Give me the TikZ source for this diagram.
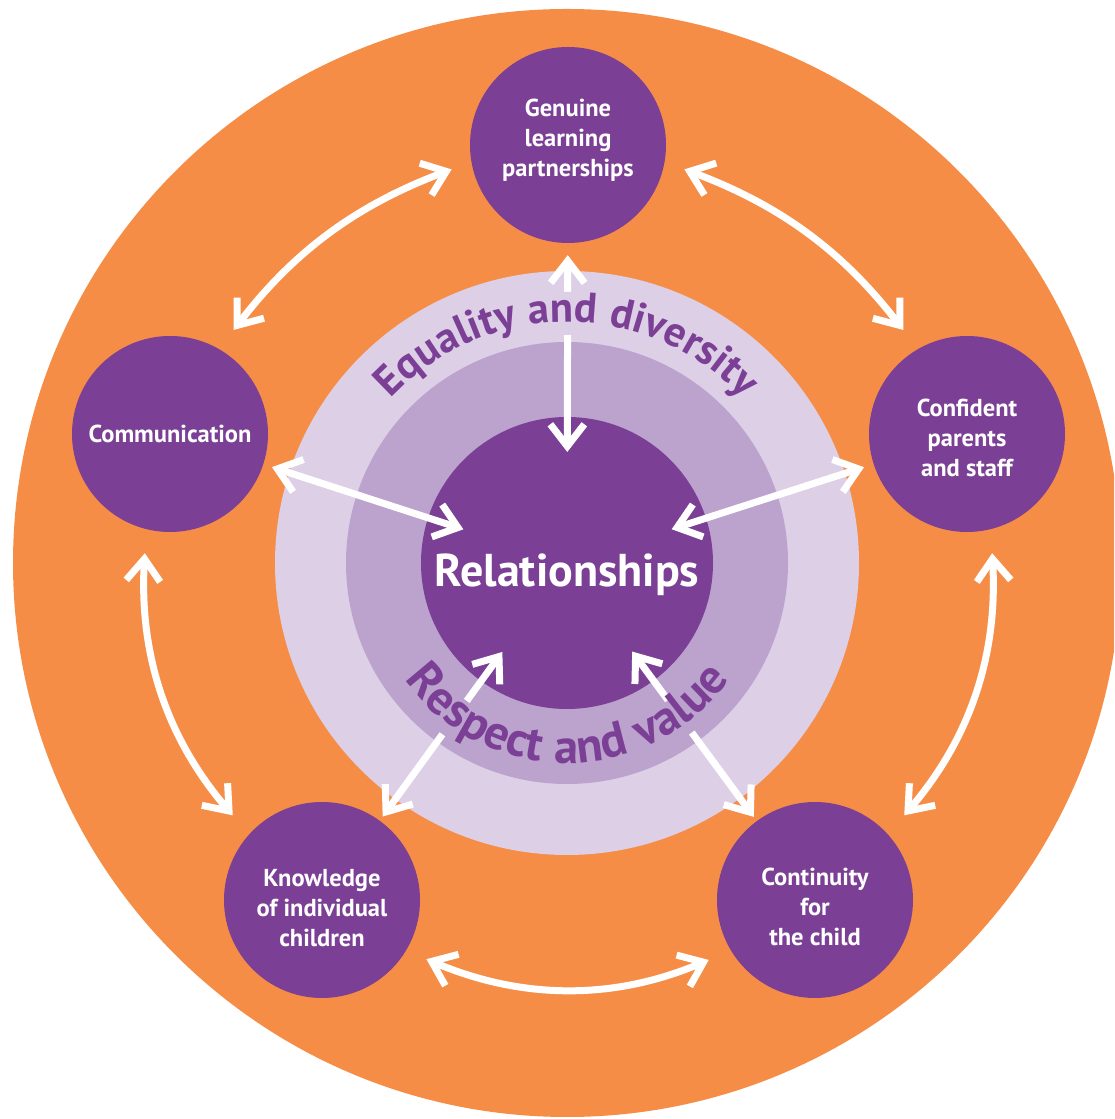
\documentclass[tikz,border=0pt]{standalone}
\usepackage{fontspec}
\setmainfont{PT Sans}
\usetikzlibrary{arrows.meta,decorations.text,calc}
\definecolor{orng}{HTML}{F68D47}
\definecolor{lavA}{HTML}{DCCFE6}
\definecolor{lavB}{HTML}{BCA3CE}
\definecolor{pur}{HTML}{7B3F95}
\newfontfamily\ringfont[LetterSpace=3]{PT Sans Bold}
\begin{document}
\begin{tikzpicture}[x=1pt,y=1pt,
  outer/.style={circle, fill=pur, minimum size=196pt, inner sep=0pt},
  lbl/.style={text=white, align=center, font=\bfseries\fontsize{24.5}{30}\selectfont},
  arr/.style={draw=white, line width=7pt,
    {Straight Barb[length=22pt,width=34pt]}-{Straight Barb[length=22pt,width=34pt]}},
  maskA/.style={draw=lavA, line width=10pt},
  maskB/.style={draw=lavB, line width=10pt}]
\useasboundingbox (0,0) rectangle (1114,1119);
\clip (0,0) rectangle (1114,1119);
\fill[orng] (567,556) circle[radius=554];
\fill[lavA] (567,556) circle[radius=292];
\fill[lavB] (567,556) circle[radius=221];
\node[circle, fill=pur, minimum size=292pt, inner sep=0pt] (rel) at (567,556) {};
\node[text=white, font=\bfseries\fontsize{46}{46}\selectfont] (reltext) at (567,544) {Relationships};

\node[outer, label={[lbl, name=genL, yshift=5pt]center:Genuine\\learning\\partnerships}] (gen) at (568,974) {};
\node[outer, label={[lbl, name=comL]center:Communication}] (com) at (170,685) {};
\node[outer, label={[lbl, name=confL, yshift=-4pt]center:Confident\\parents\\and staff}] (conf) at (967,685) {};
\node[outer, label={[lbl, name=knoL, yshift=-8pt]center:Knowledge\\of individual\\children}] (kno) at (322,219) {};
\node[outer, label={[lbl, name=contL, yshift=-7pt]center:Continuity\\for\\the child}] (cont) at (815,219) {};

\draw[arr, shorten <=21pt, shorten >=24pt] (gen.190) to[bend right=16] (com.60);
\draw[arr, shorten <=21pt, shorten >=24pt] (gen.350) to[bend left=16] (conf.120);
\draw[arr, shorten <=12pt, shorten >=111pt] (gen) -- (rel.center);
\draw[arr, shorten <=9pt, shorten >=109pt] (com) -- (rel.center);
\draw[arr, shorten <=10pt, shorten >=110pt] (conf) -- (rel.center);
\draw[arr, shorten <=5pt, shorten >=110pt] (kno) -- (rel.center);
\draw[arr, shorten <=5pt, shorten >=110pt] (cont) -- (rel.center);
\draw[arr, shorten <=24pt, shorten >=25pt] (com.256) to[bend right=22] (kno.138);
\draw[arr, shorten <=24pt, shorten >=25pt] (conf.284) to[bend left=22] (cont.42);
\draw[arr, shorten <=22pt, shorten >=24pt] (kno.329) to[bend right=23] (cont.211);

\draw[maskA] ($(gen.center)!147pt!(rel.center)$) -- ($(gen.center)!190pt!(rel.center)$);
\draw[maskB] ($(kno.center)!205pt!(rel.center)$) -- ($(kno.center)!246pt!(rel.center)$);
\draw[maskB] ($(cont.center)!208pt!(rel.center)$) -- ($(cont.center)!248pt!(rel.center)$);

\path[decorate, decoration={text along path, text align=center, text color=pur,
  text={|\ringfont\fontsize{42.5}{42.5}\selectfont|Equality and diversity}}]
  (567,556) ++(165:241) arc[start angle=165, end angle=15, radius=241];
\path[decorate, decoration={text along path, text align=center, text color=pur,
  text={|\ringfont\fontsize{48.5}{48.5}\selectfont|Respect and value}}]
  (567,556) ++(195:200) arc[start angle=195, end angle=345, radius=200];
\end{tikzpicture}
\end{document}
